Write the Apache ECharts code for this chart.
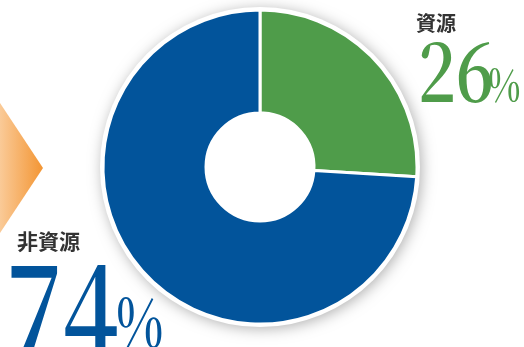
<!DOCTYPE html>
<html>
<head>
<meta charset="utf-8">
<script src="https://cdn.jsdelivr.net/npm/echarts@6/dist/echarts.min.js"></script>
<style>
  html, body { margin: 0; padding: 0; background: #fff; }
  #chart { width: 524px; height: 347px; }
</style>
</head>
<body>
<div id="chart"></div>
<script>
// 資源 / 非資源 share (%)
const names = ['資源', '非資源']
const shares = [26, 74]
const colors = ['#4f9c4a', '#02549b']

const chart = echarts.init(document.getElementById('chart'))

const numFont = '"Noto Serif CJK JP", "DejaVu Serif", serif'
const jpFont = 'Noto Sans CJK JP'
const txtShadow = { shadowBlur: 6, shadowColor: 'rgba(0,0,0,0.25)', shadowOffsetX: 2, shadowOffsetY: 3 }

function numText (x, y, text, size, color, sx) {
  return {
    type: 'text', z: 10, x: x, y: y, scaleX: sx,
    style: Object.assign({
      text: text, fontFamily: numFont, fontWeight: 600, fontSize: size, fill: color, verticalAlign: 'middle'
    }, txtShadow)
  }
}

chart.setOption({
  animation: false,
  graphic: [
    // orange arrow on the left edge
    {
      type: 'polygon', z: 0,
      shape: { points: [[-20, 103], [0, 103], [43, 168], [0, 233], [-20, 233]] },
      style: {
        fill: new echarts.graphic.LinearGradient(0, 0, 1, 0, [
          { offset: 0, color: '#fde3c6' },
          { offset: 1, color: '#f39533' }
        ])
      }
    },
    // white backing disc with soft shadow
    {
      type: 'circle', z: 0,
      shape: { cx: 260, cy: 167, r: 160 },
      style: { fill: '#fff', shadowBlur: 14, shadowColor: 'rgba(0,0,0,0.3)', shadowOffsetX: 2, shadowOffsetY: 2 }
    },
    // 資源 label
    {
      type: 'text', z: 10, x: 416, y: 13,
      style: { text: names[0], fontFamily: jpFont, fontWeight: 'bold', fontSize: 20, fill: '#333', verticalAlign: 'top' }
    },
    numText(418, 70, String(shares[0]), 83, colors[0], 0.8),
    numText(488, 84, '%', 44, colors[0], 0.78),
    // 非資源 label
    {
      type: 'text', z: 10, x: 17, y: 231,
      style: { text: names[1], fontFamily: jpFont, fontWeight: 'bold', fontSize: 21, fill: '#333', verticalAlign: 'top' }
    },
    numText(6, 309, String(shares[1]), 130, colors[1], 0.76),
    numText(116, 322, '%', 66, colors[1], 0.76)
  ],
  series: [
    {
      type: 'pie',
      center: [260, 167],
      radius: [54, 157],
      startAngle: 90,
      clockwise: true,
      silent: true,
      label: { show: false },
      labelLine: { show: false },
      itemStyle: { borderColor: '#fff', borderWidth: 3 },
      data: names.map((n, i) => ({ name: n, value: shares[i], itemStyle: { color: colors[i] } }))
    }
  ]
})
</script>
</body>
</html>
